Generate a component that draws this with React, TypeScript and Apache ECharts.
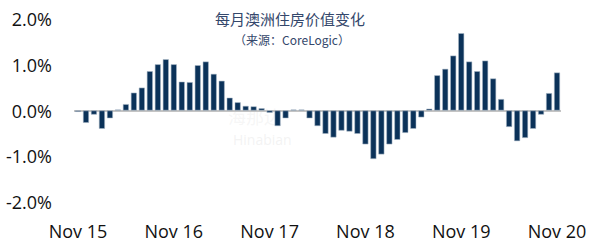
import React, { useEffect, useRef } from "react";
import * as echarts from "echarts";

const monthNames = ["Nov", "Dec", "Jan", "Feb", "Mar", "Apr", "May", "Jun", "Jul", "Aug", "Sep", "Oct"];
const startYears = [15, 16, 17, 18, 19];
const categories: string[] = [];
startYears.forEach((y) => {
  monthNames.forEach((m, i) => {
    categories.push(`${m} ${i < 2 ? y : y + 1}`);
  });
});
categories.push("Nov 20");

const monthlyChange = [
  -0.03, -0.27, -0.09, -0.4, -0.17, 0.02, 0.14, 0.39, 0.5, 0.86, 1.01, 1.12,
  1.01, 0.63, 0.62, 0.99, 1.07, 0.8, 0.65, 0.28, 0.18, 0.1, 0.09, 0.05,
  -0.05, -0.34, -0.17, 0.02, 0.02, -0.17, -0.34, -0.51, -0.59, -0.44, -0.46, -0.51,
  -0.74, -1.06, -0.96, -0.74, -0.64, -0.49, -0.4, -0.15, 0.04, 0.77, 0.91, 1.2,
  1.69, 1.07, 0.86, 1.09, 0.7, 0.25, -0.36, -0.67, -0.6, -0.4, -0.09, 0.38,
  0.83,
];

const yTicks = [-2, -1, 0, 1, 2];
const titleText = "每月澳洲住房价值变化";
const subtitleText = "（来源：CoreLogic）";
const watermarkCn = "海那边";
const watermarkEn = "Hinabian";

export default function App() {
  const ref = useRef<HTMLDivElement>(null);
  useEffect(() => {
    if (!ref.current) return;
    const chart = echarts.init(ref.current, null, { renderer: "svg" });
    chart.setOption({
      animation: false,
      backgroundColor: "#ffffff",
      grid: { left: 74, right: 37, top: 19, bottom: 46, containLabel: false },
      title: [
        {
          text: titleText,
          left: 290,
          top: 11,
          padding: 0,
          textAlign: "center",
          textStyle: { fontFamily: "Noto Sans CJK SC", fontSize: 15, lineHeight: 15, fontWeight: "normal", color: "#34476b" },
        },
        {
          text: subtitleText,
          left: 292,
          top: 32,
          padding: 0,
          textAlign: "center",
          textStyle: { fontFamily: "Noto Sans CJK SC", fontSize: 12, lineHeight: 14, fontWeight: "normal", color: "#34476b" },
        },
      ],
      graphic: [
        {
          type: "text",
          left: 228,
          top: 107,
          z: 0,
          style: { text: watermarkCn, fontSize: 18, fontFamily: "Noto Sans CJK SC", fill: "rgba(225,225,225,0.3)" },
        },
        {
          type: "text",
          left: 233,
          top: 132,
          z: 0,
          style: { text: watermarkEn, fontSize: 14, fontFamily: "Open Sans", fill: "rgba(225,225,225,0.4)" },
        },
      ],
      xAxis: {
        type: "category",
        data: categories,
        boundaryGap: true,
        axisLine: { show: false, onZero: false },
        axisTick: { show: false },
        axisLabel: {
          interval: (i: number) => i % 12 === 0,
          margin: 20,
          fontFamily: "Open Sans",
          fontSize: 18,
          color: "#111111",
        },
      },
      yAxis: {
        type: "value",
        min: yTicks[0],
        max: yTicks[yTicks.length - 1],
        interval: 1,
        splitLine: { show: false },
        axisLine: { show: false },
        axisTick: { show: false },
        axisLabel: {
          margin: 22,
          fontFamily: "Open Sans",
          fontSize: 18,
          color: "#111111",
          formatter: (v: number) => v.toFixed(1) + "%",
        },
      },
      series: [
        {
          type: "bar",
          data: monthlyChange,
          barCategoryGap: "25%",
          itemStyle: { color: "#0b3259", borderColor: "rgba(170,185,200,0.9)", borderWidth: 0.6 },
          markLine: {
            silent: true,
            symbol: "none",
            z: 1,
            label: { show: false },
            lineStyle: { color: "#c4c4c4", width: 2, type: "solid" },
            data: [{ yAxis: 0 }],
          },
        },
      ],
    });
    return () => chart.dispose();
  }, []);
  return <div ref={ref} style={{ position: "fixed", left: 0, top: 0, width: 598, height: 248 }} />;
}
